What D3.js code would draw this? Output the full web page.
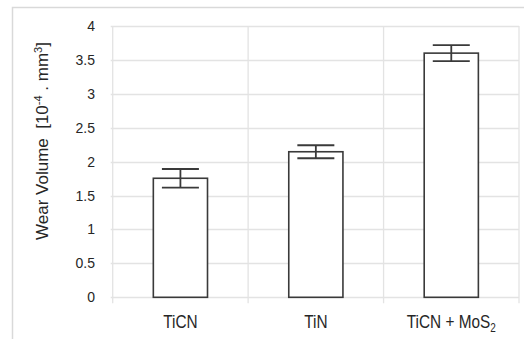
<!DOCTYPE html>
<html><head><meta charset="utf-8">
<script src="https://cdn.jsdelivr.net/npm/d3@7"></script>
<style>
html,body{margin:0;padding:0;background:#fff;}
svg{display:block;}
text{font-family:"Liberation Sans",Arial,sans-serif;fill:#262626;white-space:pre;}
</style></head>
<body>
<script>
const categories = ["TiCN", "TiN", "TiCN + MoS2"];
const values = [1.755, 2.146, 3.60];
const errors = [0.137, 0.096, 0.117];
const yTicks = [0, 0.5, 1, 1.5, 2, 2.5, 3, 3.5, 4];
const yTickLabels = ["0", "0.5", "1", "1.5", "2", "2.5", "3", "3.5", "4"];

const W = 524, H = 339;
const svg = d3.select("body").append("svg").attr("width", W).attr("height", H);

// outer chart border (left and top visible)
svg.append("path").attr("d", `M12.5,${H} L12.5,7.5 L${W},7.5`)
  .attr("fill", "none").attr("stroke", "#d9d9d9").attr("stroke-width", 1.5);

const plot = {left: 112.7, right: 519, top: 26, bottom: 297.3};
const x = d3.scaleBand().domain(categories).range([plot.left, plot.right]).paddingInner(0).paddingOuter(0);
const y = d3.scaleLinear().domain([0, 4]).range([plot.bottom, plot.top]);

// horizontal gridlines
svg.append("g").selectAll("line").data(yTicks).join("line")
  .attr("x1", plot.left - 2).attr("x2", plot.right)
  .attr("y1", d => Math.round(y(d)) + 0.5).attr("y2", d => Math.round(y(d)) + 0.5)
  .attr("stroke", "#e3e3e3").attr("stroke-width", 1.3);

// vertical gridlines at category boundaries
const bounds = categories.map(c => x(c)).concat([x(categories[categories.length - 1]) + x.bandwidth()]);
svg.append("g").selectAll("line").data(bounds).join("line")
  .attr("x1", d => d).attr("x2", d => d)
  .attr("y1", plot.top).attr("y2", plot.bottom + 6)
  .attr("stroke", "#e3e3e3").attr("stroke-width", 1.3);

// y tick labels
svg.append("g").selectAll("text").data(yTicks).join("text")
  .attr("x", 95).attr("y", d => y(d) + 5)
  .attr("text-anchor", "end").attr("font-size", 14)
  .text((d, i) => yTickLabels[i]);

// bars
const bw = x.bandwidth() * 0.4;
svg.append("g").selectAll("rect").data(categories).join("rect")
  .attr("x", c => x(c) + (x.bandwidth() - bw) / 2)
  .attr("y", (c, i) => y(values[i]))
  .attr("width", bw)
  .attr("height", (c, i) => y(0) - y(values[i]))
  .attr("fill", "#fff").attr("stroke", "#3a3a3a").attr("stroke-width", 1.6);

// error bars
const capW = 37;
const eg = svg.append("g").attr("stroke", "#3a3a3a").attr("stroke-width", 1.8);
categories.forEach((c, i) => {
  const cx = x(c) + x.bandwidth() / 2;
  const yt = y(values[i] + errors[i]), yb = y(values[i] - errors[i]);
  eg.append("line").attr("x1", cx).attr("x2", cx).attr("y1", yt).attr("y2", yb);
  eg.append("line").attr("x1", cx - capW / 2).attr("x2", cx + capW / 2).attr("y1", yt).attr("y2", yt);
  eg.append("line").attr("x1", cx - capW / 2).attr("x2", cx + capW / 2).attr("y1", yb).attr("y2", yb);
});

// category labels
const catG = svg.append("g");
categories.forEach(c => {
  const cx = x(c) + x.bandwidth() / 2;
  const t = catG.append("text")
    .attr("transform", `translate(${cx},327.5) scale(0.83,1)`)
    .attr("text-anchor", "middle").attr("font-size", 18.5);
  const m = c.match(/^(.*?)(\d)$/);
  if (m) {
    t.append("tspan").text(m[1]);
    t.append("tspan").attr("font-size", 12).attr("dy", 4).text(m[2]);
  } else {
    t.text(c);
  }
});

// y axis title
const title = svg.append("text")
  .attr("transform", "translate(47.5,141) rotate(-90)")
  .attr("text-anchor", "middle").attr("font-size", 17);
title.append("tspan").text("Wear Volume  [10");
title.append("tspan").attr("font-size", 11).attr("dy", -6).text("-4");
title.append("tspan").attr("dy", 6).text(" . mm");
title.append("tspan").attr("font-size", 11).attr("dy", -6).text("3");
title.append("tspan").attr("dy", 6).text("]");
</script>
</body></html>
